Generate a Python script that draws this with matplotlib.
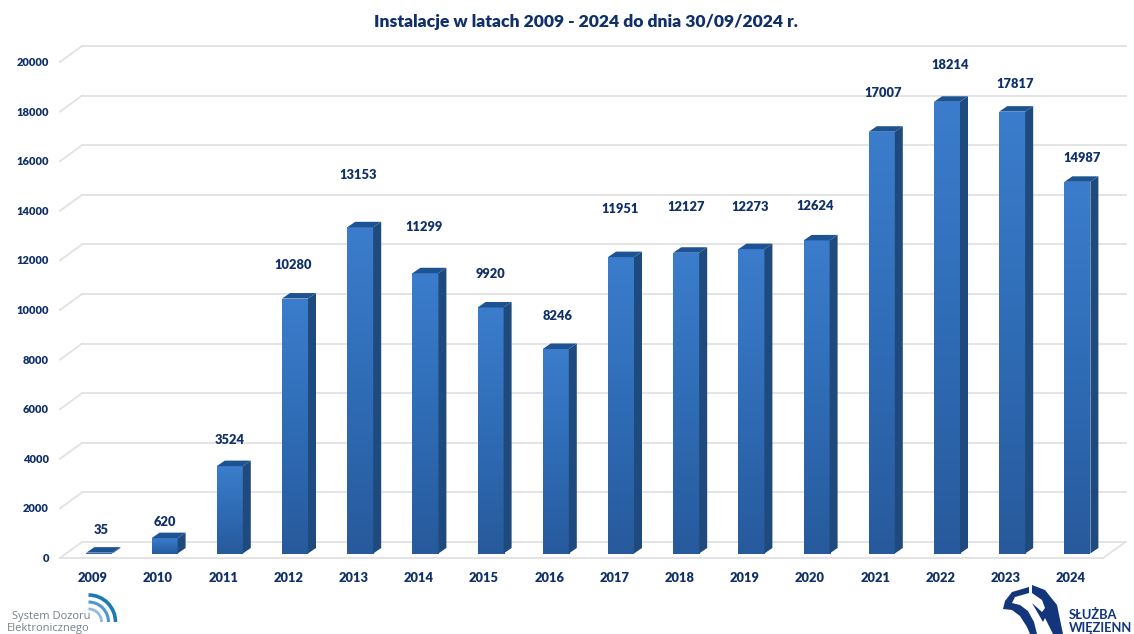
import numpy as np
import matplotlib
matplotlib.use("Agg")
import matplotlib.pyplot as plt
from matplotlib.patches import Polygon, Arc
from matplotlib.colors import LinearSegmentedColormap

plt.rcParams["font.family"] = ["Lato", "DejaVu Sans"]

years = [2009, 2010, 2011, 2012, 2013, 2014, 2015, 2016,
         2017, 2018, 2019, 2020, 2021, 2022, 2023, 2024]
values = [35, 620, 3524, 10280, 13153, 11299, 9920, 8246,
          11951, 12127, 12273, 12624, 17007, 18214, 17817, 14987]
y_ticks = list(range(0, 20001, 2000))
title = "Instalacje w latach 2009 - 2024 do dnia 30/09/2024 r."

# polozenie etykiet wzgledem slupka, w pikselach
label_gaps = [11, 5, 15, 22, 41, 35, 22, 21, 37, 34, 31, 23, 27, 25, 16, 12]
label_shift = [2, 0, 0, -2, -2, -1, 0, 2, -1, 0, -1, -1, 1, 3, 3, 5]

NAVY = "#10306b"
GRID = "#e2e2e2"
PX_X = 65.2      # pikseli na jeden rok
PX_Y = 0.0248    # pikseli na jednostke
X0, Y0 = 99.4, 553.5   # pozycja 2009 / zera w pikselach

def dx(px):
    return px / PX_X

def dy(px):
    return px / PX_Y

fig = plt.figure(figsize=(11.34, 6.34), dpi=100)
ax = fig.add_axes([0, 0, 1, 1])
ax.set_xlim(-X0 / PX_X, (1134 - X0) / PX_X)
ax.set_ylim(-(634 - Y0) / PX_Y, Y0 / PX_Y)
ax.axis("off")

# siatka: linie tylne i skosy po lewej
for v in y_ticks:
    ax.plot([-dx(X0 - 82), dx(1125.5 - X0)], [v + dy(11.5), v + dy(11.5)],
            color=GRID, lw=1.3, zorder=1)
    ax.plot([-dx(X0 - 60), -dx(X0 - 82)], [v - dy(4.5), v + dy(11.5)],
            color=GRID, lw=1.3, zorder=1)
    ax.text(-dx(X0 - 49), v - dy(5), str(v), ha="right", va="center",
            fontsize=8, fontweight="heavy", color=NAVY)
ax.plot([-dx(X0 - 60), dx(1103 - X0)], [-dy(4.5), -dy(4.5)],
        color=GRID, lw=1.3, zorder=1)
ax.plot([dx(1103 - X0), dx(1125.5 - X0)], [-dy(4.5), dy(11.5)],
        color=GRID, lw=1.3, zorder=1)

cmap = LinearSegmentedColormap.from_list("bar", ["#3b7dcc", "#2f6cb6", "#275a9c"])
grad = np.linspace(0, 1, 256).reshape(-1, 1)
half = dx(13)
depth_x, depth_y = dx(8), dy(5.5)

for i, (year, val) in enumerate(zip(years, values)):
    left, right = i - half, i + half
    ax.imshow(grad, extent=[left, right, 0, val], aspect="auto", cmap=cmap,
              origin="upper", zorder=3, interpolation="bilinear")
    # bok i gora slupka
    ax.add_patch(Polygon([(right, 0), (right + depth_x, depth_y),
                          (right + depth_x, val + depth_y), (right, val)],
                         closed=True, fc="#1f4a7d", ec="none", zorder=3))
    ax.add_patch(Polygon([(left, val), (left + depth_x, val + depth_y),
                          (right + depth_x, val + depth_y), (right, val)],
                         closed=True, fc="#1e5393", ec="none", zorder=3))
    ax.annotate(str(val), (i, val + depth_y),
                xytext=(label_shift[i] * 0.72, label_gaps[i] * 0.72),
                textcoords="offset points", ha="center", va="bottom",
                fontsize=9.3, fontweight="heavy", color=NAVY)
    ax.text(i - dx(6.5), -dy(24), str(year), ha="center", va="center",
            fontsize=9.3, fontweight="heavy", color=NAVY)

ax.set_xlim(-X0 / PX_X, (1134 - X0) / PX_X)
ax.set_ylim(-(634 - Y0) / PX_Y, Y0 / PX_Y)

fig.text(586 / 1134, 1 - 22 / 634, title, ha="center", va="center",
         fontsize=12.6, fontweight="heavy", color=NAVY)

# logotypy w ukladzie pikseli
logo = fig.add_axes([0, 0, 1, 1], facecolor="none")
logo.set_xlim(0, 1134)
logo.set_ylim(634, 0)
logo.axis("off")

for r, col, lw in [(27, "#1b7ab5", 2.6), (20, "#4f97cc", 2.2), (13, "#8dbde0", 2.0)]:
    logo.add_patch(Arc((88.5, 622), 2 * r, 2 * r, theta1=270, theta2=360,
                       color=col, lw=lw))
logo.text(12, 616.5, "System Dozoru", fontsize=8, color="#77818a", va="center",
          family=["Open Sans", "DejaVu Sans"])
logo.text(7, 628, "Elektronicznego", fontsize=8, color="#77818a", va="center",
          family=["Open Sans", "DejaVu Sans"])

LOGO = "#12357c"
logo.add_patch(Polygon([(1029, 587), (1012, 592), (1005, 601), (1003, 609),
                        (1012, 610), (1020, 616), (1027, 627), (1030, 634),
                        (1037, 634), (1034, 622), (1028, 611), (1020, 605),
                        (1012, 603), (1015, 597), (1029, 593)],
                       closed=True, fc=LOGO, ec="none"))
logo.add_patch(Polygon([(1032, 585), (1045, 590), (1057, 605), (1063, 634),
                        (1053, 634), (1045, 618), (1043, 622), (1032, 603),
                        (1042, 612), (1045, 608), (1042, 600), (1032, 593)],
                       closed=True, fc=LOGO, ec="none"))
logo.text(1069, 615, "SŁUŻBA", fontsize=9.3, fontweight="bold", color=LOGO, va="center")
logo.text(1069, 627.5, "WIĘZIENN", fontsize=9.3, fontweight="bold", color=LOGO, va="center")

fig.savefig("out.png", dpi=100)
